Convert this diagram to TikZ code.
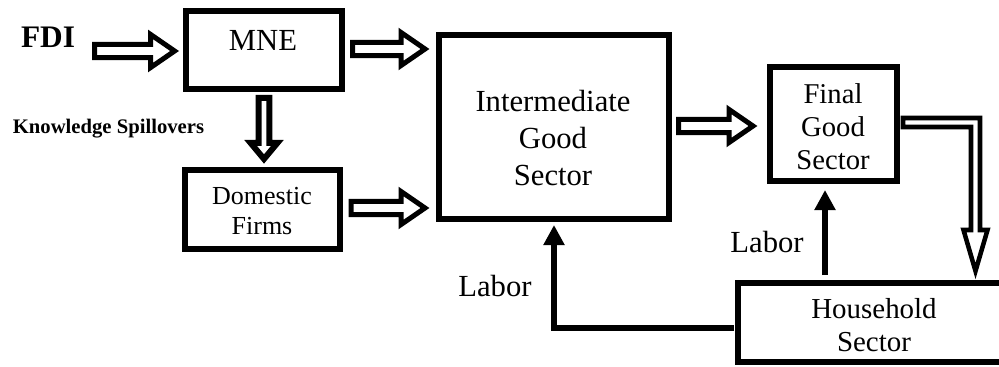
\documentclass[tikz,border=0pt]{standalone}
\usepackage{fontspec}
\setmainfont{Liberation Serif}
\usetikzlibrary{calc,arrows.meta}

\begin{document}
\begin{tikzpicture}[x=0.75pt,y=-0.75pt,
  box/.style={draw, line width=4.5pt, inner sep=0pt},
  txt/.style={inner sep=0pt, align=center},
  hollow/.style n args={3}{draw, fill=white, line width=3.75pt, miter limit=20,
    to path={($(\tikztotarget)!#3!(\tikztostart)$) coordinate (hq)
      ($(\tikztostart)!#1!90:(\tikztotarget)$) -- ($(hq)!#1!90:(\tikztotarget)$)
      -- ($(hq)!#2!90:(\tikztotarget)$) -- (\tikztotarget)
      -- ($(hq)!#2!-90:(\tikztotarget)$) -- ($(hq)!#1!-90:(\tikztotarget)$)
      -- ($(\tikztostart)!#1!-90:(\tikztotarget)$) -- cycle}},
  labor/.style={line width=4.5pt, -{Triangle[length=15pt,width=15pt]}}]
\useasboundingbox (0,0) rectangle (999,367);

% boxes
\node[box, minimum width=117pt, minimum height=58.5pt] (mne) at (264,50) {};
\node[txt, font=\fontsize{23}{28}\selectfont] (mne-t) at (263,40) {MNE};
\node[box, minimum width=116.25pt, minimum height=59.25pt] (dom) at (262.5,209.5) {};
\node[txt, font=\fontsize{19.5}{22.5}\selectfont] (dom-t) at (262,211) {Domestic\\Firms};
\node[box, minimum width=172.5pt, minimum height=138pt] (inter) at (554,127) {};
\node[txt, font=\fontsize{23}{27.4}\selectfont] (inter-t) at (553,138) {Intermediate\\Good\\Sector};
\node[box, minimum width=95.25pt, minimum height=85.5pt] (fin) at (833.5,124) {};
\node[txt, font=\fontsize{21.5}{25}\selectfont] (fin-t) at (833,126.7) {Final\\Good\\Sector};
\node[box, minimum width=204pt, minimum height=59.25pt] (hh) at (874,322.5) {};
\node[txt, font=\fontsize{21.7}{24.75}\selectfont] (hh-t) at (874,325) {Household\\Sector};

% labels
\node[txt, font=\bfseries\fontsize{23.5}{28}\selectfont] (fdi) at (48,37.5) {FDI};
\node[txt, font=\bfseries\fontsize{15.5}{18}\selectfont] (ks) at (108.5,128.6) {Knowledge Spillovers};
\node[txt, font=\fontsize{23}{28}\selectfont] (lab1) at (767,242) {Labor};
\node[txt, font=\fontsize{23}{28}\selectfont] (lab2) at (495,286) {Labor};

% hollow arrows
\coordinate (fdi-in) at (94.5,51);
\draw[hollow={4.9pt}{12.4pt}{18pt}] (fdi-in) to ($(mne.west)+(-8.4,1)$);
\draw[hollow={4.9pt}{12.4pt}{18pt}] ($(mne.east)+(7.5,-1)$) to ($(mne.east -| inter.west)+(-11,-1)$);
\draw[hollow={4.9pt}{12.4pt}{18pt}] ($(dom.east)+(8,-1.5)$) to ($(dom.east -| inter.west)+(-11,-1.5)$);
\draw[hollow={4.9pt}{12.4pt}{18pt}] ($(inter.east)+(6.5,-1)$) to ($(inter.east -| fin.west)+(-14,-1)$);
\draw[hollow={4.1pt}{10pt}{12pt}, line width=4.5pt] ($(mne.south)+(0,6)$) to ($(mne.south |- dom.north)+(0,-8)$);

% final good to household
\coordinate (el-s) at ($(fin.east)+(3,-1.5)$);
\coordinate (el-t) at (975.5,271);
\draw[line width=3.4pt, fill=white, miter limit=20]
  ($(el-s)+(0,-4.5)$) -- ($(el-s -| el-t)+(4.5,-4.5)$) -- ($(el-t)+(4.5,-41)$)
  -- ($(el-t)+(12,-41)$) -- (el-t) -- ($(el-t)+(-12,-41)$) -- ($(el-t)+(-4.5,-41)$)
  -- ($(el-s -| el-t)+(-4.5,4.5)$) -- ($(el-s)+(0,4.5)$) -- cycle;

% labor
\coordinate (lx) at (825,0);
\draw[labor] ($(hh.north -| lx)+(0,-5)$) -- ($(fin.south -| lx)+(0,6)$);
\draw[labor] ($(hh.west)+(-1,5)$) -| ($(inter.south)+(0,3)$);
\end{tikzpicture}
\end{document}
